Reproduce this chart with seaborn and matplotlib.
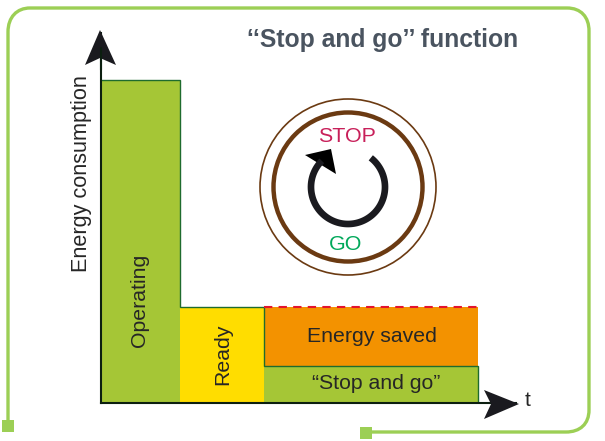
import numpy as np
import pandas as pd
import matplotlib
matplotlib.use("Agg")
import matplotlib.pyplot as plt
from matplotlib.patches import Circle, Polygon, Rectangle, PathPatch
from matplotlib.path import Path
import seaborn as sns

# ---- data (arbitrary units) ----
phases = ["Operating", "Ready", "Stop and go", "Energy saved"]
time_edges = [0, 79, 163, 377]
phase_start = [0, 79, 163, 163]
phase_end = [79, 163, 377, 377]
energy = [323, 96, 37, 59]
phase_colors = ["#A5C636", "#FFDD00", "#A5C636", "#F39200"]

sns.set_theme(style="white")
plt.rcParams["font.family"] = ["Liberation Sans", "DejaVu Sans"]

W, H = 605, 441
fig = plt.figure(figsize=(W / 100, H / 100), dpi=100, facecolor="white")

# data axes: 1 unit = 1 pixel
L, B, AW, AH = 101, 403, 415, 370
ax = fig.add_axes([L / W, (H - B) / H, AW / W, AH / H])
df = pd.DataFrame({
    "phase": phases,
    "mid": [(a + b) / 2 for a, b in zip(phase_start, phase_end)],
    "energy": energy,
})
sns.histplot(data=df, x="mid", weights="energy", hue="phase", hue_order=phases[::-1],
             bins=time_edges, multiple="stack", palette=dict(zip(phases, phase_colors)),
             linewidth=0, alpha=1, legend=False, ax=ax)
ax.set_xlim(0, AW)
ax.set_ylim(0, AH)
ax.set_xticks([])
ax.set_yticks([])
ax.set_xlabel("")
ax.set_ylabel("")
sns.despine(ax=ax)
ax.patch.set_alpha(0)
for side in ("left", "bottom"):
    ax.spines[side].set_color("#0c1f10")
    ax.spines[side].set_linewidth(1.5)
    ax.spines[side].set_zorder(5)

# outlines follow the data
edge = "#1F6B2E"
t1, t2, t3 = phase_end[0], phase_end[1], phase_end[2]
e_op, e_rd, e_sg, e_sv = energy
ax.plot([0, t1, t1, t2], [e_op, e_op, e_rd, e_rd], color=edge, lw=1.0, zorder=4, solid_joinstyle="miter")
ax.plot([t2, t2, t3, t3], [e_rd, e_sg, e_sg, 0], color=edge, lw=1.0, zorder=4, solid_joinstyle="miter")
ax.plot([t2, t3], [e_sg + e_sv] * 2, color="#E3142D", lw=1.5, ls=(0, (4, 3)), zorder=4)

TXT = "#262626"
fs = 15.3
ax.text(t1 / 2 - 1, 103, phases[0], rotation=90, ha="center", va="center", fontsize=fs, color=TXT)
ax.text((t1 + t2) / 2 + 1, 49, phases[1], rotation=90, ha="center", va="center", fontsize=fs, color=TXT)
ax.text(271, e_sg + e_sv / 2 - 0.5, phases[3], ha="center", va="center", fontsize=fs, color=TXT)
ax.text(275, e_sg / 2 + 1, "“" + phases[2] + "”", ha="center", va="center", fontsize=fs, color=TXT)

# overlay in pixel coordinates for decoration
ov = fig.add_axes([0, 0, 1, 1], zorder=10)
ov.set_xlim(0, W)
ov.set_ylim(H, 0)
ov.axis("off")
ov.patch.set_alpha(0)

green = "#9CCF55"
verts = [(8, 424), (8, 32), (8, 17), (17, 8), (30, 8), (567, 8), (581, 8), (589, 17), (589, 31),
         (589, 410), (589, 424), (580, 432), (566, 432), (366, 432)]
codes = [Path.MOVETO, Path.LINETO, Path.CURVE4, Path.CURVE4, Path.CURVE4, Path.LINETO,
         Path.CURVE4, Path.CURVE4, Path.CURVE4, Path.LINETO, Path.CURVE4, Path.CURVE4, Path.CURVE4, Path.LINETO]
ov.add_patch(PathPatch(Path(verts, codes), fill=False, ec=green, lw=2.4, capstyle="butt"))
ov.add_patch(Rectangle((2, 420), 12, 12, fc=green, ec="none"))
ov.add_patch(Rectangle((360, 427), 12, 12, fc=green, ec="none"))

arrow = "#1A1A1F"
ov.add_patch(Polygon([(100, 30), (116, 65), (100, 58), (85, 65)], fc=arrow, ec="none"))
ov.add_patch(Polygon([(519, 404), (484, 419), (491, 404), (484, 390)], fc=arrow, ec="none"))
ov.plot([100.5, 100.5], [48, 70], color="#0c1f10", lw=1.5)

# dial
cx, cy = 348, 187
brown = "#6B3A12"
ov.add_patch(Circle((cx, cy), 88, fill=False, ec=brown, lw=1.2))
ov.add_patch(Circle((cx, cy), 74.5, fill=False, ec=brown, lw=3.2))
ang = np.radians(np.linspace(52, -225, 120))
ov.plot(cx + 37 * np.cos(ang), cy - 37 * np.sin(ang), color=arrow, lw=4.8, solid_capstyle="butt")
ov.add_patch(Polygon([(305, 155), (331, 149), (336, 174)], fc="black", ec="none"))
ov.text(347, 136.5, "STOP", color="#C8205A", fontsize=15.4, ha="center", va="center")
ov.text(346, 244.5, "GO", color="#00A85A", fontsize=15.4, ha="center", va="center")

# labels and title
ov.text(81, 174, "Energy consumption", rotation=90, ha="center", va="center", fontsize=15.6, color=TXT)
ov.text(527.5, 401, "t", ha="center", va="center", fontsize=15, color=TXT)
ov.text(382.5, 40, "‘‘Stop and go’’ function", ha="center", va="center", fontsize=17.8,
        fontweight="bold", color="#4A5460")

fig.savefig("out.png", dpi=100)
